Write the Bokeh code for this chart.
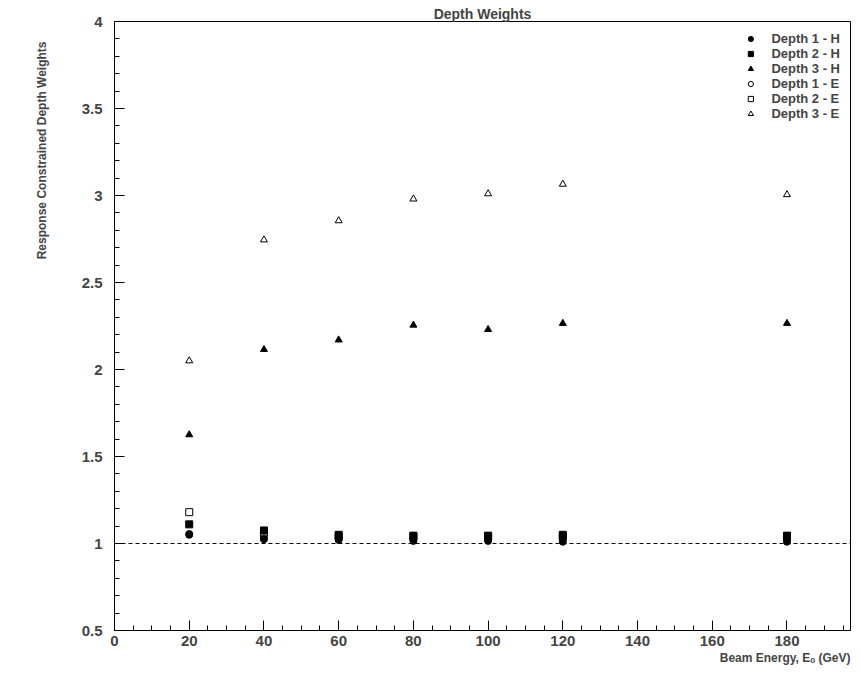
from bokeh.plotting import figure
from bokeh.models import Range1d, Span, Legend, LegendItem, FixedTicker, Title
from bokeh.embed import file_html
from bokeh.resources import INLINE

energy = [20, 40, 60, 80, 100, 120, 180]
d1h = [1.05, 1.025, 1.02, 1.015, 1.015, 1.01, 1.01]
d2h = [1.11, 1.075, 1.05, 1.045, 1.045, 1.05, 1.045]
d3h = [1.625, 2.115, 2.17, 2.255, 2.23, 2.265, 2.265]
d1e = [1.055, 1.03, 1.03, 1.025, 1.025, 1.03, 1.025]
d2e = [1.18, 1.06, 1.04, 1.04, 1.04, 1.04, 1.04]
d3e = [2.05, 2.745, 2.855, 2.98, 3.01, 3.065, 3.005]

f = "Liberation Sans"
p = figure(width=853, height=667, output_backend="svg", toolbar_location=None,
           x_range=Range1d(0, 197), y_range=Range1d(0.5, 4),
           min_border_left=114, min_border_right=3, min_border_top=21, min_border_bottom=37)
p.title.text = "Depth Weights"
p.title.align = "center"
p.title.text_font = f
p.title.text_font_size = "14px"
p.title.offset = 0
p.title.standoff = 0
p.xgrid.visible = False
p.ygrid.visible = False
p.outline_line_color = "black"

for ax in (p.xaxis[0], p.yaxis[0]):
    ax.major_label_text_font = f
    ax.major_label_text_font_style = "bold"
    ax.major_label_text_font_size = "15px"
    ax.major_tick_in = 10
    ax.major_tick_out = 0
    ax.minor_tick_in = 5
    ax.minor_tick_out = 0
p.yaxis.major_label_standoff = 12
p.xaxis.ticker = FixedTicker(ticks=list(range(0, 200, 20)), minor_ticks=list(range(0, 200, 5)))
p.yaxis.ticker = FixedTicker(ticks=[0.5, 1, 1.5, 2, 2.5, 3, 3.5, 4],
                             minor_ticks=[0.5 + 0.1 * i for i in range(36)])
p.yaxis.major_label_overrides = {0.5: "0.5", 1: "1", 1.5: "1.5", 2: "2", 2.5: "2.5", 3: "3", 3.5: "3.5", 4: "4"}

p.add_layout(Title(text="Beam Energy, Eₒ (GeV)", align="right", text_font=f, text_font_style="bold",
                   text_font_size="12px", offset=0, standoff=0), "below")
p.add_layout(Title(text="Response Constrained Depth Weights", align="right", text_font=f,
                   text_font_style="bold", text_font_size="12px", offset=20, standoff=60), "left")

p.add_layout(Span(location=1, dimension="width", line_dash="4 3", line_color="black", line_width=1))

s = 7
r1 = p.scatter(energy, d1h, marker="circle", size=s, color="black")
r2 = p.scatter(energy, d2h, marker="square", size=s, color="black")
r3 = p.scatter(energy, d3h, marker="triangle", size=s, color="black")
r4 = p.scatter(energy, d1e, marker="circle", size=s, line_color="black", fill_color=None)
r5 = p.scatter(energy, d2e, marker="square", size=s, line_color="black", fill_color=None)
r6 = p.scatter(energy, d3e, marker="triangle", size=s, line_color="black", fill_color=None)

legend = Legend(items=[LegendItem(label=l, renderers=[r]) for l, r in [
    ("Depth 1 - H", r1), ("Depth 2 - H", r2), ("Depth 3 - H", r3),
    ("Depth 1 - E", r4), ("Depth 2 - E", r5), ("Depth 3 - E", r6)]],
    location="top_right", border_line_alpha=0, background_fill_alpha=0,
    label_text_font=f, label_text_font_style="bold", label_text_font_size="13px",
    glyph_height=13, glyph_width=14, label_height=12, spacing=-1, padding=4, margin=6, label_standoff=14)
p.add_layout(legend)

open("out.html", "w").write(file_html(p, INLINE))
